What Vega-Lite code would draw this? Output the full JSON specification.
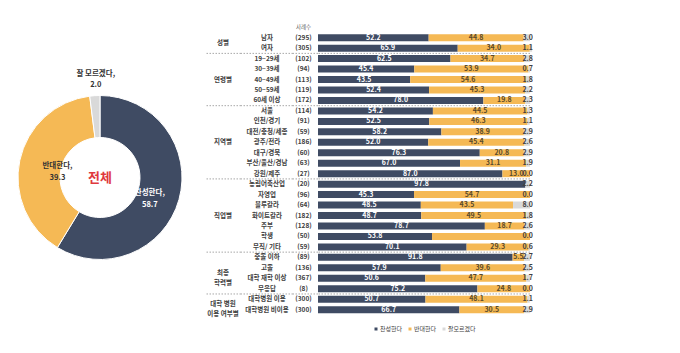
{
  "$schema": "https://vega.github.io/schema/vega-lite/v6.json",
  "padding": {"left": 0, "top": 22, "right": 0, "bottom": 0},
  "spacing": 5,
  "bounds": "flush",
  "config": {
    "view": {"stroke": null},
    "font": "Noto Sans CJK KR",
    "text": {"font": "Noto Sans CJK KR"},
    "legend": {"labelFont": "Noto Sans CJK KR"}
  },
  "datasets": {
    "pie": [
      {"resp": "찬성한다", "pct": 58.7, "ord": 1, "label": "찬성한다,\n58.7"},
      {"resp": "반대한다", "pct": 39.3, "ord": 2, "label": "반대한다,\n39.3"},
      {"resp": "잘모르겠다", "pct": 2.0, "ord": 3, "label": "잘 모르겠다,\n2.0"}
    ],
    "cats": [
      {"cat": "남자", "n": "(295)"}, {"cat": "여자", "n": "(305)"},
      {"cat": "19~29세", "n": "(102)"}, {"cat": "30~39세", "n": "(94)"}, {"cat": "40~49세", "n": "(113)"}, {"cat": "50~59세", "n": "(119)"}, {"cat": "60세 이상", "n": "(172)"},
      {"cat": "서울", "n": "(114)"}, {"cat": "인천/경기", "n": "(91)"}, {"cat": "대전/충청/세종", "n": "(59)"}, {"cat": "광주/전라", "n": "(186)"}, {"cat": "대구/경북", "n": "(60)"}, {"cat": "부산/울산/경남", "n": "(63)"}, {"cat": "강원/제주", "n": "(27)"},
      {"cat": "농림어축산업", "n": "(20)"}, {"cat": "자영업", "n": "(96)"}, {"cat": "블루칼라", "n": "(64)"}, {"cat": "화이트칼라", "n": "(182)"}, {"cat": "주부", "n": "(128)"}, {"cat": "학생", "n": "(50)"}, {"cat": "무직/ 기타", "n": "(59)"},
      {"cat": "중졸 이하", "n": "(89)"}, {"cat": "고졸", "n": "(136)"}, {"cat": "대학 재학 이상", "n": "(367)"}, {"cat": "무응답", "n": "(8)"},
      {"cat": "대학병원 이용", "n": "(300)"}, {"cat": "대학병원 비이용", "n": "(300)"}
    ],
    "groups": [
      {"label": "성별", "cat": "남자"},
      {"label": "연령별", "cat": "40~49세"},
      {"label": "지역별", "cat": "광주/전라"},
      {"label": "직업별", "cat": "화이트칼라"},
      {"label": "최종\n학력별", "cat": "고졸"},
      {"label": "대학 병원\n이용 여부별", "cat": "대학병원 이용"}
    ],
    "seps": [
      {"cat": "19~29세"}, {"cat": "서울"}, {"cat": "농림어축산업"}, {"cat": "중졸 이하"}, {"cat": "대학병원 이용"}
    ],
    "bars": [
      {"cat": "남자", "resp": "찬성한다", "ord": 1, "pct": 52.2}, {"cat": "남자", "resp": "반대한다", "ord": 2, "pct": 44.8}, {"cat": "남자", "resp": "잘모르겠다", "ord": 3, "pct": 3.0},
      {"cat": "여자", "resp": "찬성한다", "ord": 1, "pct": 65.9}, {"cat": "여자", "resp": "반대한다", "ord": 2, "pct": 34.0}, {"cat": "여자", "resp": "잘모르겠다", "ord": 3, "pct": 1.1},
      {"cat": "19~29세", "resp": "찬성한다", "ord": 1, "pct": 62.5}, {"cat": "19~29세", "resp": "반대한다", "ord": 2, "pct": 34.7}, {"cat": "19~29세", "resp": "잘모르겠다", "ord": 3, "pct": 2.8},
      {"cat": "30~39세", "resp": "찬성한다", "ord": 1, "pct": 45.4}, {"cat": "30~39세", "resp": "반대한다", "ord": 2, "pct": 53.9}, {"cat": "30~39세", "resp": "잘모르겠다", "ord": 3, "pct": 0.7},
      {"cat": "40~49세", "resp": "찬성한다", "ord": 1, "pct": 43.5}, {"cat": "40~49세", "resp": "반대한다", "ord": 2, "pct": 54.6}, {"cat": "40~49세", "resp": "잘모르겠다", "ord": 3, "pct": 1.8},
      {"cat": "50~59세", "resp": "찬성한다", "ord": 1, "pct": 52.4}, {"cat": "50~59세", "resp": "반대한다", "ord": 2, "pct": 45.3}, {"cat": "50~59세", "resp": "잘모르겠다", "ord": 3, "pct": 2.2},
      {"cat": "60세 이상", "resp": "찬성한다", "ord": 1, "pct": 78.0}, {"cat": "60세 이상", "resp": "반대한다", "ord": 2, "pct": 19.8}, {"cat": "60세 이상", "resp": "잘모르겠다", "ord": 3, "pct": 2.3},
      {"cat": "서울", "resp": "찬성한다", "ord": 1, "pct": 54.2}, {"cat": "서울", "resp": "반대한다", "ord": 2, "pct": 44.5}, {"cat": "서울", "resp": "잘모르겠다", "ord": 3, "pct": 1.3},
      {"cat": "인천/경기", "resp": "찬성한다", "ord": 1, "pct": 52.5}, {"cat": "인천/경기", "resp": "반대한다", "ord": 2, "pct": 46.3}, {"cat": "인천/경기", "resp": "잘모르겠다", "ord": 3, "pct": 1.1},
      {"cat": "대전/충청/세종", "resp": "찬성한다", "ord": 1, "pct": 58.2}, {"cat": "대전/충청/세종", "resp": "반대한다", "ord": 2, "pct": 38.9}, {"cat": "대전/충청/세종", "resp": "잘모르겠다", "ord": 3, "pct": 2.9},
      {"cat": "광주/전라", "resp": "찬성한다", "ord": 1, "pct": 52.0}, {"cat": "광주/전라", "resp": "반대한다", "ord": 2, "pct": 45.4}, {"cat": "광주/전라", "resp": "잘모르겠다", "ord": 3, "pct": 2.6},
      {"cat": "대구/경북", "resp": "찬성한다", "ord": 1, "pct": 76.3}, {"cat": "대구/경북", "resp": "반대한다", "ord": 2, "pct": 20.8}, {"cat": "대구/경북", "resp": "잘모르겠다", "ord": 3, "pct": 2.9},
      {"cat": "부산/울산/경남", "resp": "찬성한다", "ord": 1, "pct": 67.0}, {"cat": "부산/울산/경남", "resp": "반대한다", "ord": 2, "pct": 31.1}, {"cat": "부산/울산/경남", "resp": "잘모르겠다", "ord": 3, "pct": 1.9},
      {"cat": "강원/제주", "resp": "찬성한다", "ord": 1, "pct": 87.0}, {"cat": "강원/제주", "resp": "반대한다", "ord": 2, "pct": 13.0}, {"cat": "강원/제주", "resp": "잘모르겠다", "ord": 3, "pct": 0.0},
      {"cat": "농림어축산업", "resp": "찬성한다", "ord": 1, "pct": 97.8}, {"cat": "농림어축산업", "resp": "반대한다", "ord": 2, "pct": 0.0}, {"cat": "농림어축산업", "resp": "잘모르겠다", "ord": 3, "pct": 2.2},
      {"cat": "자영업", "resp": "찬성한다", "ord": 1, "pct": 45.3}, {"cat": "자영업", "resp": "반대한다", "ord": 2, "pct": 54.7}, {"cat": "자영업", "resp": "잘모르겠다", "ord": 3, "pct": 0.0},
      {"cat": "블루칼라", "resp": "찬성한다", "ord": 1, "pct": 48.5}, {"cat": "블루칼라", "resp": "반대한다", "ord": 2, "pct": 43.5}, {"cat": "블루칼라", "resp": "잘모르겠다", "ord": 3, "pct": 8.0},
      {"cat": "화이트칼라", "resp": "찬성한다", "ord": 1, "pct": 48.7}, {"cat": "화이트칼라", "resp": "반대한다", "ord": 2, "pct": 49.5}, {"cat": "화이트칼라", "resp": "잘모르겠다", "ord": 3, "pct": 1.8},
      {"cat": "주부", "resp": "찬성한다", "ord": 1, "pct": 78.7}, {"cat": "주부", "resp": "반대한다", "ord": 2, "pct": 18.7}, {"cat": "주부", "resp": "잘모르겠다", "ord": 3, "pct": 2.6},
      {"cat": "학생", "resp": "찬성한다", "ord": 1, "pct": 53.8}, {"cat": "학생", "resp": "반대한다", "ord": 2, "pct": 46.2}, {"cat": "학생", "resp": "잘모르겠다", "ord": 3, "pct": 0.0},
      {"cat": "무직/ 기타", "resp": "찬성한다", "ord": 1, "pct": 70.1}, {"cat": "무직/ 기타", "resp": "반대한다", "ord": 2, "pct": 29.3}, {"cat": "무직/ 기타", "resp": "잘모르겠다", "ord": 3, "pct": 0.6},
      {"cat": "중졸 이하", "resp": "찬성한다", "ord": 1, "pct": 91.8}, {"cat": "중졸 이하", "resp": "반대한다", "ord": 2, "pct": 5.5}, {"cat": "중졸 이하", "resp": "잘모르겠다", "ord": 3, "pct": 2.7},
      {"cat": "고졸", "resp": "찬성한다", "ord": 1, "pct": 57.9}, {"cat": "고졸", "resp": "반대한다", "ord": 2, "pct": 39.6}, {"cat": "고졸", "resp": "잘모르겠다", "ord": 3, "pct": 2.5},
      {"cat": "대학 재학 이상", "resp": "찬성한다", "ord": 1, "pct": 50.6}, {"cat": "대학 재학 이상", "resp": "반대한다", "ord": 2, "pct": 47.7}, {"cat": "대학 재학 이상", "resp": "잘모르겠다", "ord": 3, "pct": 1.7},
      {"cat": "무응답", "resp": "찬성한다", "ord": 1, "pct": 75.2}, {"cat": "무응답", "resp": "반대한다", "ord": 2, "pct": 24.8}, {"cat": "무응답", "resp": "잘모르겠다", "ord": 3, "pct": 0.0},
      {"cat": "대학병원 이용", "resp": "찬성한다", "ord": 1, "pct": 50.7}, {"cat": "대학병원 이용", "resp": "반대한다", "ord": 2, "pct": 48.1}, {"cat": "대학병원 이용", "resp": "잘모르겠다", "ord": 3, "pct": 1.1},
      {"cat": "대학병원 비이용", "resp": "찬성한다", "ord": 1, "pct": 66.7}, {"cat": "대학병원 비이용", "resp": "반대한다", "ord": 2, "pct": 30.5}, {"cat": "대학병원 비이용", "resp": "잘모르겠다", "ord": 3, "pct": 2.9}
    ]
  },
  "hconcat": [
    {
      "width": 200,
      "height": 311,
      "layer": [
        {
          "data": {"name": "pie"},
          "mark": {"type": "arc", "innerRadius": 40, "outerRadius": 82, "stroke": "white", "strokeWidth": 1},
          "encoding": {
            "theta": {"field": "pct", "type": "quantitative", "stack": true},
            "order": {"field": "ord", "type": "quantitative"},
            "color": {"field": "resp", "type": "nominal",
              "scale": {"domain": ["찬성한다", "반대한다", "잘모르겠다"], "range": ["#3F4B63", "#F5B955", "#D9D9D9"]},
              "legend": {"title": null, "orient": "none", "legendX": 373, "legendY": 304, "direction": "horizontal", "gridAlign": "none", "symbolType": "square", "symbolSize": 9, "labelFontSize": 6, "labelColor": "#404040", "columnPadding": 4, "labelOffset": 1, "symbolStrokeWidth": 0}}
          }
        },
        {
          "data": {"name": "pie"},
          "mark": {"type": "text", "radius": 59, "dx": -7, "lineBreak": "\n", "fontSize": 7.5, "fontWeight": "bold", "fill": "white", "lineHeight": 12},
          "encoding": {
            "theta": {"field": "pct", "type": "quantitative", "stack": true},
            "order": {"field": "ord", "type": "quantitative"},
            "detail": {"field": "resp"},
            "text": {"field": "label", "condition": {"test": "datum.resp !== '찬성한다'", "value": ""}}
          }
        },
        {
          "data": {"name": "pie"},
          "mark": {"type": "text", "radius": 67, "dx": 23, "dy": 2, "lineBreak": "\n", "fontSize": 7.5, "fontWeight": "bold", "fill": "#333333", "lineHeight": 12},
          "encoding": {
            "theta": {"field": "pct", "type": "quantitative", "stack": true},
            "order": {"field": "ord", "type": "quantitative"},
            "detail": {"field": "resp"},
            "text": {"field": "label", "condition": {"test": "datum.resp !== '반대한다'", "value": ""}}
          }
        },
        {
          "data": {"name": "pie"},
          "mark": {"type": "text", "radius": 99, "dy": -5, "dx": 2, "lineBreak": "\n", "fontSize": 7.5, "fontWeight": "bold", "fill": "#333333", "lineHeight": 11},
          "encoding": {
            "theta": {"field": "pct", "type": "quantitative", "stack": true},
            "order": {"field": "ord", "type": "quantitative"},
            "detail": {"field": "resp"},
            "text": {"field": "label", "condition": {"test": "datum.resp !== '잘모르겠다'", "value": ""}}
          }
        },
        {
          "data": {"values": [{"t": "전체"}]},
          "mark": {"type": "text", "fontSize": 13, "fontWeight": "bold", "fill": "#E0393E"},
          "encoding": {"text": {"field": "t"}}
        }
      ]
    },
    {
      "spacing": 0,
      "bounds": "flush",
      "hconcat": [
        {
          "width": 36,
          "height": 292.9,
          "layer": [
            {
              "data": {"name": "seps"},
              "mark": {"type": "rule", "stroke": "#A8A8A8", "strokeDash": [1.5, 1.5], "strokeWidth": 1},
              "encoding": {
                "y": {"field": "cat", "type": "nominal", "bandPosition": 0, "axis": null,
                  "scale": {"type": "band", "domain": ["사례수","남자","여자","19~29세","30~39세","40~49세","50~59세","60세 이상","서울","인천/경기","대전/충청/세종","광주/전라","대구/경북","부산/울산/경남","강원/제주","농림어축산업","자영업","블루칼라","화이트칼라","주부","학생","무직/ 기타","중졸 이하","고졸","대학 재학 이상","무응답","대학병원 이용","대학병원 비이용"], "paddingInner": 0, "paddingOuter": 0}}
              }
            },
            {
              "data": {"name": "groups"},
              "transform": [{"filter": {"field": "label", "oneOf": ["연령별", "지역별", "직업별"]}}],
              "mark": {"type": "text", "fontSize": 6.5, "fontWeight": "bold", "fill": "#404040"},
              "encoding": {
                "y": {"field": "cat", "type": "nominal", "bandPosition": 0.5, "axis": null},
                "text": {"field": "label"}
              }
            },
            {
              "data": {"name": "groups"},
              "transform": [{"filter": {"not": {"field": "label", "oneOf": ["연령별", "지역별", "직업별"]}}}],
              "mark": {"type": "text", "fontSize": 6.5, "fontWeight": "bold", "fill": "#404040", "lineBreak": "\n", "lineHeight": 10},
              "encoding": {
                "y": {"field": "cat", "type": "nominal", "bandPosition": 1, "axis": null},
                "text": {"field": "label"}
              }
            }
          ]
        },
        {
          "width": 52,
          "height": 292.9,
          "layer": [
            {
              "data": {"name": "seps"},
              "mark": {"type": "rule", "stroke": "#A8A8A8", "strokeDash": [1.5, 1.5], "strokeWidth": 1},
              "encoding": {
                "y": {"field": "cat", "type": "nominal", "bandPosition": 0, "axis": null,
                  "scale": {"type": "band", "domain": ["사례수","남자","여자","19~29세","30~39세","40~49세","50~59세","60세 이상","서울","인천/경기","대전/충청/세종","광주/전라","대구/경북","부산/울산/경남","강원/제주","농림어축산업","자영업","블루칼라","화이트칼라","주부","학생","무직/ 기타","중졸 이하","고졸","대학 재학 이상","무응답","대학병원 이용","대학병원 비이용"], "paddingInner": 0, "paddingOuter": 0}}
              }
            },
            {
              "data": {"name": "cats"},
              "mark": {"type": "text", "fontSize": 6.5, "fontWeight": "bold", "fill": "#404040"},
              "encoding": {
                "y": {"field": "cat", "type": "nominal", "axis": null},
                "text": {"field": "cat"}
              }
            }
          ]
        },
        {
          "width": 25,
          "height": 292.9,
          "layer": [
            {
              "data": {"name": "seps"},
              "mark": {"type": "rule", "stroke": "#A8A8A8", "strokeDash": [1.5, 1.5], "strokeWidth": 1},
              "encoding": {
                "y": {"field": "cat", "type": "nominal", "bandPosition": 0, "axis": null,
                  "scale": {"type": "band", "domain": ["사례수","남자","여자","19~29세","30~39세","40~49세","50~59세","60세 이상","서울","인천/경기","대전/충청/세종","광주/전라","대구/경북","부산/울산/경남","강원/제주","농림어축산업","자영업","블루칼라","화이트칼라","주부","학생","무직/ 기타","중졸 이하","고졸","대학 재학 이상","무응답","대학병원 이용","대학병원 비이용"], "paddingInner": 0, "paddingOuter": 0}}
              }
            },
            {
              "data": {"name": "cats"},
              "mark": {"type": "text", "fontSize": 6.5, "fontWeight": "bold", "fill": "#404040", "dx": -2},
              "encoding": {
                "y": {"field": "cat", "type": "nominal", "axis": null},
                "text": {"field": "n"}
              }
            },
            {
              "data": {"values": [{"h": "사례수"}]},
              "mark": {"type": "text", "fontSize": 5.5, "fill": "#606060", "dx": -2},
              "encoding": {
                "y": {"field": "h", "type": "nominal", "axis": null},
                "text": {"field": "h"}
              }
            }
          ]
        },
        {
          "width": 212,
          "height": 292.9,
          "layer": [
            {
              "data": {"name": "bars"},
              "mark": {"type": "bar", "size": 7},
              "encoding": {
                "y": {"field": "cat", "type": "nominal", "axis": null,
                  "scale": {"type": "band", "domain": ["사례수","남자","여자","19~29세","30~39세","40~49세","50~59세","60세 이상","서울","인천/경기","대전/충청/세종","광주/전라","대구/경북","부산/울산/경남","강원/제주","농림어축산업","자영업","블루칼라","화이트칼라","주부","학생","무직/ 기타","중졸 이하","고졸","대학 재학 이상","무응답","대학병원 이용","대학병원 비이용"], "paddingInner": 0, "paddingOuter": 0}},
                "x": {"field": "pct", "type": "quantitative", "stack": "zero", "axis": null, "scale": {"domain": [0, 100], "nice": false}},
                "order": {"field": "ord", "type": "quantitative"},
                "color": {"field": "resp", "type": "nominal",
                  "scale": {"domain": ["찬성한다", "반대한다", "잘모르겠다"], "range": ["#3F4B63", "#F5B955", "#D9D9D9"]},
                  "legend": {"title": null, "orient": "none", "legendX": 373, "legendY": 304, "direction": "horizontal", "gridAlign": "none", "symbolType": "square", "symbolSize": 9, "labelFontSize": 6, "labelColor": "#404040", "columnPadding": 4, "labelOffset": 1, "symbolStrokeWidth": 0}}
              }
            },
            {
              "data": {"name": "seps"},
              "mark": {"type": "rule", "stroke": "#A8A8A8", "strokeDash": [1.5, 1.5], "strokeWidth": 1},
              "encoding": {
                "y": {"field": "cat", "type": "nominal", "bandPosition": 0, "axis": null}
              }
            },
            {
              "data": {"name": "bars"},
              "mark": {"type": "text", "fontSize": 7, "fontWeight": "bold"},
              "encoding": {
                "y": {"field": "cat", "type": "nominal", "axis": null},
                "x": {"field": "pct", "type": "quantitative", "stack": "zero", "bandPosition": 0.5},
                "order": {"field": "ord", "type": "quantitative"},
                "detail": {"field": "resp"},
                "text": {"field": "pct", "format": ".1f", "condition": {"test": "datum.resp === '잘모르겠다' || datum.pct === 0 || (datum.cat === '학생' && datum.resp === '반대한다')", "value": ""}},
                "color": {"condition": {"test": "datum.resp === '찬성한다'", "value": "#FFFFFF"}, "value": "#5A4A2A"}
              }
            },
            {
              "data": {"name": "bars"},
              "transform": [{"filter": "datum.resp === '잘모르겠다'"}],
              "mark": {"type": "text", "fontSize": 7, "fontWeight": "bold", "align": "right", "dx": 3, "fill": "#404040"},
              "encoding": {
                "y": {"field": "cat", "type": "nominal", "axis": null},
                "x": {"datum": 100, "type": "quantitative"},
                "text": {"field": "pct", "format": ".1f"}
              }
            }
          ]
        }
      ]
    }
  ]
}
